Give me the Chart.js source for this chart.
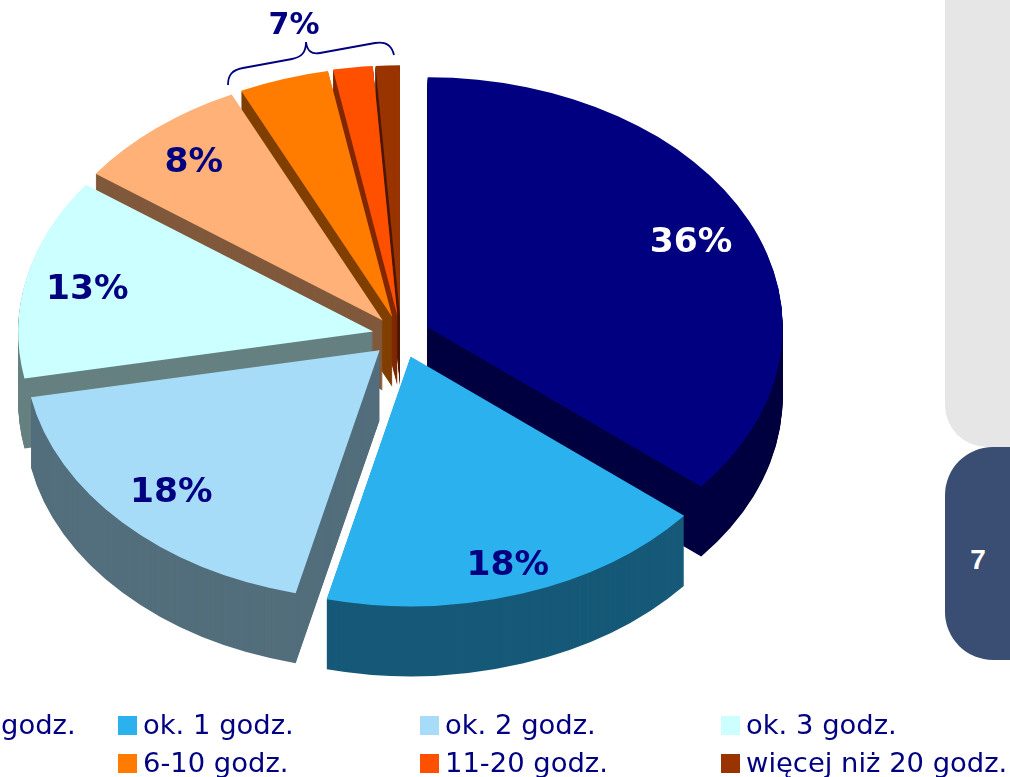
<!DOCTYPE html>
<html lang="pl">
<head>
<meta charset="utf-8">
<title>Wykres</title>
<script src="https://cdn.jsdelivr.net/npm/chart.js@4/dist/chart.umd.min.js"></script>
<style>
html,body{margin:0;padding:0;background:#fff;width:1010px;height:777px;overflow:hidden}
#wrap{position:relative;width:1010px;height:777px;overflow:hidden}
canvas{position:absolute;left:0;top:0;display:block}
.panel{position:absolute;left:945px;width:110px}
#gray{top:-60px;height:507px;background:#e6e6e6;border-radius:0 0 0 42px}
#blue{top:447px;height:213px;background:#3a4d73;border-radius:48px}
#num{position:absolute;left:958px;top:544px;width:40px;text-align:center;color:#fff;font:bold 28px/32px "Liberation Sans",Arial,sans-serif}
</style>
</head>
<body>
<div id="wrap">
<div id="gray" class="panel"></div>
<div id="blue" class="panel"></div>
<div id="num">7</div>
<canvas id="c" width="1010" height="777"></canvas>
</div>
<script>
const categories = ["mniej niż 1 godz.", "ok. 1 godz.", "ok. 2 godz.", "ok. 3 godz.", "4-5 godz.", "6-10 godz.", "11-20 godz.", "więcej niż 20 godz."];
const values = [36, 17.8, 18.2, 13, 8, 4.1, 1.8, 1.1];
const sliceColors = ["#000080", "#2cb1ef", "#a6dcf8", "#ccffff", "#ffb177", "#ff7c00", "#ff5000", "#993300"];
const sliceLabels = ["36%", "18%", "18%", "13%", "8%", "", "", ""];
const labelColors = ["#ffffff", "#000080", "#000080", "#000080", "#000080", "#000080", "#000080", "#000080"];
const groupLabel = "7%";

const R = 355, SQUASH = 0.704, DEPTH = 70;
const CX = 401, CY = 336;
const explode = [29.5, 30.5, 29.5, 28.5, 28.5, 28.5, 29.5, 29.5];
const labelFrac = [0.82, 0.87, 0.81, 0.825, 0.835, 0, 0, 0];
const wallOrder = [7, 6, 5, 4, 3, 0, 2, 1];

function darken(hex) {
  const n = parseInt(hex.slice(1), 16);
  return "rgb(" + [(n >> 16) & 255, (n >> 8) & 255, n & 255].map(c => Math.round(c * 0.5)).join(",") + ")";
}

const pie3d = {
  id: "pie3d",
  // Chart.js reshapes exploded arcs by offset/4 * (1 - sin(circumference)); a quarter-turn value
  // switches that off, so every slice keeps its true angles and radius and is only moved outwards.
  afterDatasetsUpdate(chart) {
    chart.getDatasetMeta(0).data.forEach(a => { a.circumference = Math.PI / 2; });
  },
  beforeDatasetsDraw(chart) {
    const ctx = chart.ctx, arcs = chart.getDatasetMeta(0).data;
    const cx = (chart.chartArea.left + chart.chartArea.right) / 2;
    const cy = (chart.chartArea.top + chart.chartArea.bottom) / 2;
    chart.$toScreen = (x, y) => [CX + (x - cx), CY + (y - cy) * SQUASH];
    ctx.save();
    ctx.translate(CX, CY);
    ctx.scale(1, SQUASH);
    ctx.translate(-cx, -cy);
    wallOrder.forEach(i => {
      const arc = arcs[i], keep = arc.options;
      arc.options = Object.assign({}, keep, { backgroundColor: darken(sliceColors[i]) });
      for (let d = DEPTH; d >= 1; d -= 1) {
        ctx.save();
        ctx.translate(0, d / SQUASH);
        arc.draw(ctx);
        ctx.restore();
      }
      arc.options = keep;
    });
  },
  afterDatasetsDraw(chart) {
    chart.ctx.restore();
    const ctx = chart.ctx, arcs = chart.getDatasetMeta(0).data;
    ctx.save();
    ctx.textAlign = "center";
    ctx.textBaseline = "middle";
    ctx.font = 'bold 34.5px "DejaVu Sans", Verdana, sans-serif';
    sliceLabels.forEach((t, i) => {
      if (!t) return;
      const a = arcs[i], mid = (a.startAngle + a.endAngle) / 2;
      const dist = explode[i] + labelFrac[i] * R;
      const [x, y] = chart.$toScreen(a.x + Math.cos(mid) * dist, a.y + Math.sin(mid) * dist);
      ctx.fillStyle = labelColors[i];
      ctx.fillText(t, x, y + 3);
    });
    // bracket over the three smallest slices
    ctx.font = 'bold 30px "DejaVu Sans", Verdana, sans-serif';
    ctx.fillStyle = "#000080";
    ctx.fillText(groupLabel, 294, 26);
    ctx.strokeStyle = "#000080";
    ctx.lineWidth = 1.8;
    ctx.beginPath();
    ctx.moveTo(228, 85);
    ctx.bezierCurveTo(228, 75, 232, 70, 243, 68);
    ctx.lineTo(292, 59);
    ctx.bezierCurveTo(302, 57, 306, 52, 306, 42);
    ctx.bezierCurveTo(307, 50, 311, 55, 320, 53);
    ctx.lineTo(375, 43);
    ctx.bezierCurveTo(386, 41, 392, 46, 394, 55);
    ctx.stroke();
    // legend
    ctx.textAlign = "left";
    ctx.textBaseline = "alphabetic";
    ctx.font = '27.4px "DejaVu Sans", Verdana, sans-serif';
    categories.forEach((t, i) => {
      const col = i % 4, row = Math.floor(i / 4);
      const x = Math.round(-183.5 + col * 301.5), y = 716 + row * 38;
      ctx.fillStyle = sliceColors[i];
      ctx.fillRect(x, y, 19, 19);
      ctx.fillStyle = "#000080";
      ctx.fillText(t, x + 25, y + 18);
    });
    ctx.restore();
  }
};

new Chart(document.getElementById("c"), {
  type: "pie",
  data: {
    labels: categories,
    datasets: [{
      data: values,
      backgroundColor: sliceColors,
      offset: explode.map(e => 4 * e),
      hoverOffset: 0,
      borderWidth: 0,
      clip: false
    }]
  },
  options: {
    responsive: false,
    animation: false,
    radius: R,
    rotation: 0,
    layout: { padding: 0 },
    plugins: { legend: { display: false }, title: { display: false }, tooltip: { enabled: false } }
  },
  plugins: [pie3d]
});
</script>
</body>
</html>
